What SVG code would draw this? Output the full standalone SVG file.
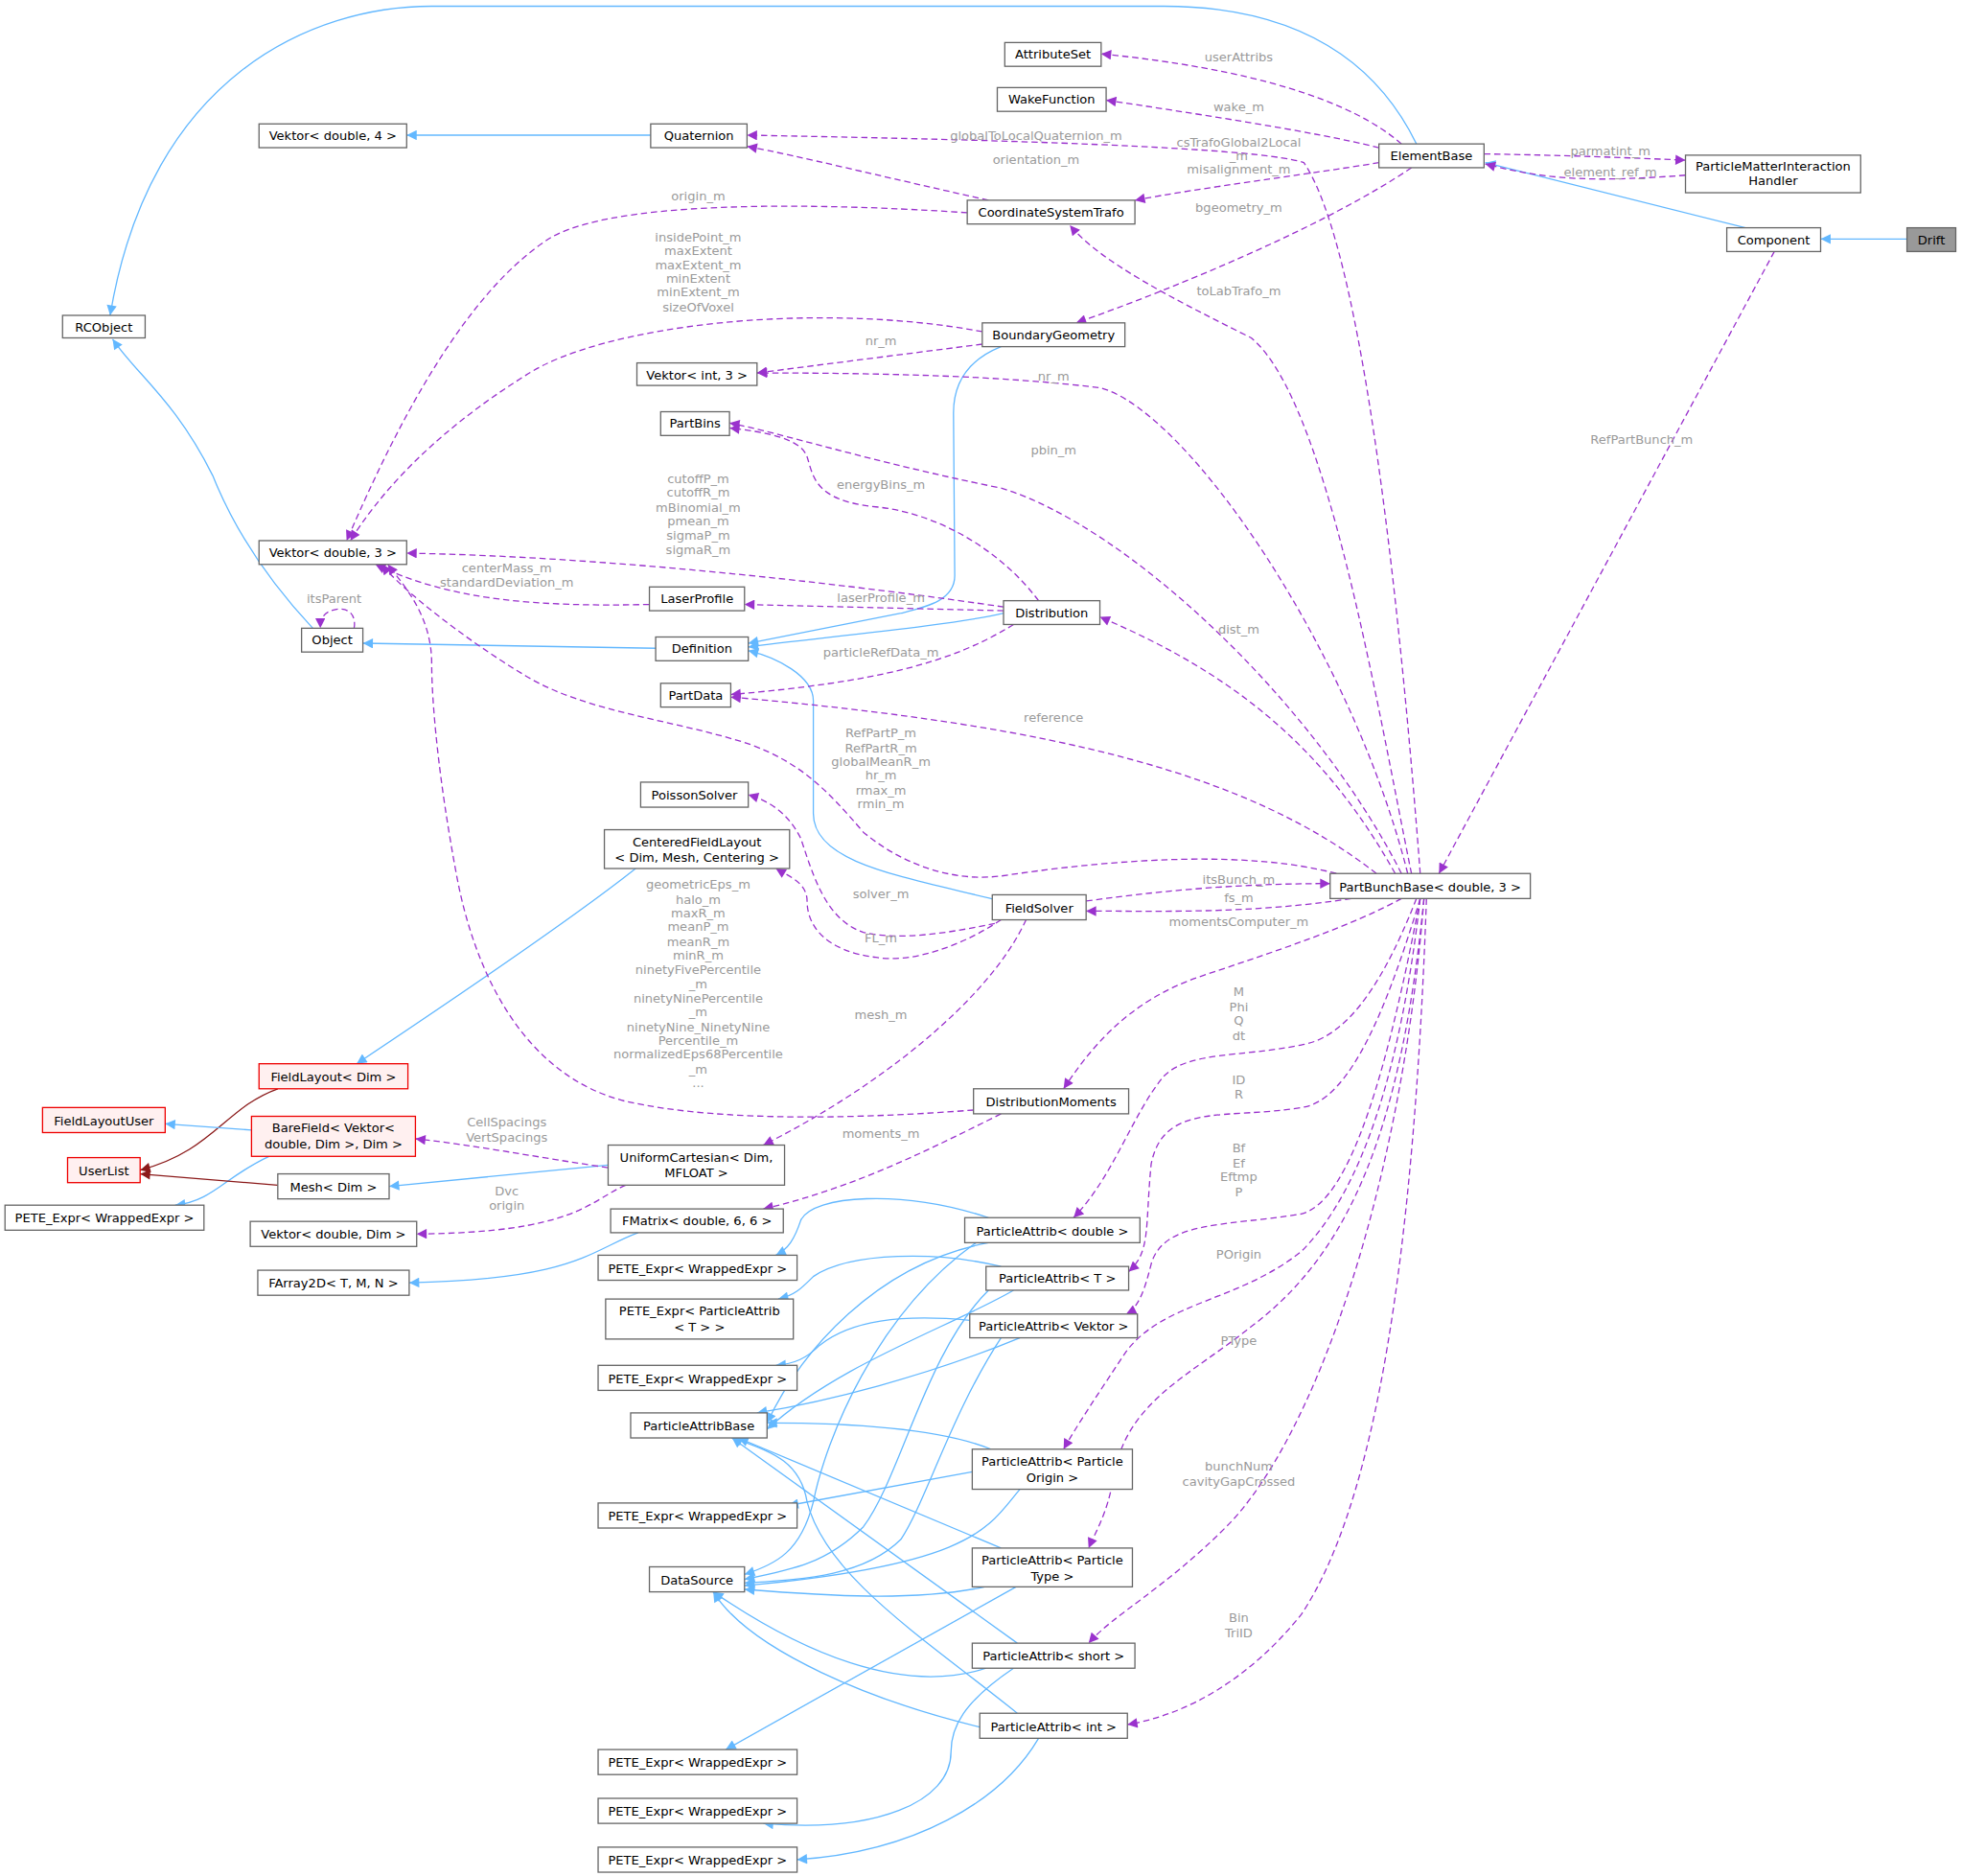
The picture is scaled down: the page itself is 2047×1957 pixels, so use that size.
<svg xmlns="http://www.w3.org/2000/svg" width="2047" height="1957" viewBox="0 0 2047 1957">
<style>
.n rect{fill:#fff;stroke:#666;stroke-width:1}
.r rect{fill:#fff0f0;stroke:#e00;stroke-width:1}
.g rect{fill:#999;stroke:#666}
text{font-family:"DejaVu Sans","Liberation Sans",sans-serif;font-size:10px;fill:#000}
.lb{fill:#9a9a9a;text-anchor:middle}
.b{fill:none;stroke:#63b8ff;stroke-width:1;marker-end:url(#mb)}
.p{fill:none;stroke:#9a32cd;stroke-width:1;stroke-dasharray:5,3;marker-end:url(#mp)}
.d{fill:none;stroke:#8b1a1a;stroke-width:1;marker-end:url(#md)}
</style>
<defs>
<marker id="mb" viewBox="0 0 10 10" refX="10" refY="5" markerWidth="10" markerHeight="8" markerUnits="userSpaceOnUse" orient="auto"><path d="M0,0L10,5L0,10z" fill="#63b8ff"/></marker>
<marker id="mp" viewBox="0 0 10 10" refX="10" refY="5" markerWidth="10" markerHeight="8" markerUnits="userSpaceOnUse" orient="auto"><path d="M0,0L10,5L0,10z" fill="#9a32cd"/></marker>
<marker id="md" viewBox="0 0 10 10" refX="10" refY="5" markerWidth="10" markerHeight="8" markerUnits="userSpaceOnUse" orient="auto"><path d="M0,0L10,5L0,10z" fill="#8b1a1a"/></marker>
</defs>
<rect width="2047" height="1957" fill="#fff"/>
<g transform="scale(1.3055)">
<g id="connectors">
<path class="b" d="M1524,191L1455,191"/>
<path class="b" d="M1395,182L1187,130"/>
<path class="b" d="M1132,115C1110,70 1060,5 930,5L345,5C250,5 120,60 88,252"/>
<path class="b" d="M520,108L325,108"/>
<path class="b" d="M250,502C220,470 190,430 170,380C140,320 110,300 90,271"/>
<path class="b" d="M524,518L290,514"/>
<path class="b" d="M800,277C780,285 762,300 762,330L763,460C763,480 740,485 720,490L598,514"/>
<path class="b" d="M802,490C760,500 650,510 598,517"/>
<path class="b" d="M800,720C720,700 650,690 650,650L650,560C650,540 620,525 598,520"/>
<path class="b" d="M508,694C450,740 330,820 285,850"/>
<path class="d" d="M222,870C180,885 170,920 112,935"/>
<path class="b" d="M201,903L132,898"/>
<path class="b" d="M215,924C180,940 170,960 140,963"/>
<path class="d" d="M222,947L112,938"/>
<path class="b" d="M486,931L311,948"/>
<path class="b" d="M510,985C470,1000 460,1022 327,1025"/>
<path class="b" d="M790,973C720,950 650,955 640,975C635,990 630,998 620,1003"/>
<path class="b" d="M790,993C700,1010 640,1080 613,1137"/>
<path class="b" d="M780,993C700,1050 660,1150 650,1200C640,1240 620,1250 595,1258"/>
<path class="b" d="M800,1012C750,1000 680,1000 650,1020C640,1030 635,1035 622,1038"/>
<path class="b" d="M810,1031C760,1060 670,1090 613,1142"/>
<path class="b" d="M790,1031C740,1080 720,1180 690,1220C660,1250 630,1255 595,1262"/>
<path class="b" d="M775,1055C720,1050 680,1055 655,1075C645,1085 635,1090 620,1091"/>
<path class="b" d="M815,1069C740,1100 660,1120 605,1129"/>
<path class="b" d="M800,1069C760,1130 740,1200 720,1230C690,1260 640,1262 595,1265"/>
<path class="b" d="M792,1158C760,1145 700,1137 613,1137"/>
<path class="b" d="M777,1176L630,1203"/>
<path class="b" d="M815,1190C790,1220 780,1250 595,1267"/>
<path class="b" d="M800,1237L590,1149"/>
<path class="b" d="M787,1268C730,1280 660,1275 595,1270"/>
<path class="b" d="M812,1268L580,1398"/>
<path class="b" d="M813,1313L585,1149"/>
<path class="b" d="M788,1333C720,1355 640,1320 570,1272"/>
<path class="b" d="M810,1333C770,1360 760,1380 760,1400C760,1440 700,1465 610,1457"/>
<path class="b" d="M813,1369C740,1310 660,1260 645,1200C640,1170 620,1160 585,1149"/>
<path class="b" d="M783,1380C700,1360 600,1320 570,1272"/>
<path class="b" d="M830,1389C800,1440 730,1480 637,1486"/>
<path class="p" d="M1120,115C1080,80 1000,55 880,43"/>
<path class="p" d="M1102,118C1050,105 950,90 884,80"/>
<path class="p" d="M1135,698C1120,500 1090,200 1042,130C1000,115 700,110 597,108"/>
<path class="p" d="M1102,130C1040,140 960,150 907,160"/>
<path class="p" d="M790,160C700,140 640,125 597,117"/>
<path class="p" d="M773,170C700,165 500,155 440,190C360,240 300,380 277,432"/>
<path class="p" d="M1186,123C1250,124 1300,126 1347,128"/>
<path class="p" d="M1347,140C1280,145 1240,145 1187,131"/>
<path class="p" d="M1128,134C1060,180 940,230 860,258"/>
<path class="p" d="M1128,698C1100,560 1060,320 1000,270C940,240 880,210 855,180"/>
<path class="p" d="M785,265C650,240 480,260 420,300C340,350 300,400 280,432"/>
<path class="p" d="M785,275L605,298"/>
<path class="p" d="M1125,698C1080,520 950,330 880,310C800,300 700,298 605,298"/>
<path class="p" d="M1120,698C1050,560 900,420 800,390C700,370 620,345 583,338"/>
<path class="p" d="M830,480C800,440 750,410 700,405C650,400 650,380 645,365C640,350 610,345 583,342"/>
<path class="p" d="M802,485C700,470 500,445 325,442"/>
<path class="p" d="M519,483C430,485 360,480 300,451"/>
<path class="p" d="M802,488L595,483"/>
<path class="p" d="M810,499C760,530 700,545 584,555"/>
<path class="p" d="M283,502C285,490 277,485 268,487C258,489 256,495 256,502"/>
<path class="p" d="M1115,698C1060,600 990,540 879,493"/>
<path class="p" d="M1100,698C1000,620 850,580 584,557"/>
<path class="p" d="M1068,698C1000,680 900,685 800,700C760,705 720,690 690,665C660,630 640,610 600,595C540,575 470,570 420,540C370,510 320,470 305,451"/>
<path class="p" d="M795,738C760,745 720,752 690,745C660,735 650,700 640,670C630,650 615,640 598,635"/>
<path class="p" d="M800,735C770,755 730,770 700,765C660,760 645,740 645,720C645,705 630,700 620,694"/>
<path class="p" d="M820,735C790,800 700,870 610,915"/>
<path class="p" d="M778,887C700,893 580,898 500,880C420,860 380,780 365,700C350,620 345,560 345,530C345,490 320,465 310,451"/>
<path class="p" d="M1080,718C1000,730 940,728 868,728"/>
<path class="p" d="M868,720C940,710 1000,706 1063,706"/>
<path class="p" d="M1120,718C1080,740 1020,760 960,780C900,800 870,840 850,870"/>
<path class="p" d="M800,890C740,920 680,950 610,966"/>
<path class="p" d="M486,933C430,925 380,915 332,910"/>
<path class="p" d="M500,947C470,960 460,985 333,986"/>
<path class="p" d="M1132,718C1100,800 1070,830 1040,835C990,845 950,840 930,860C905,890 890,940 858,973"/>
<path class="p" d="M1135,718C1110,800 1080,880 1040,885C980,895 930,880 920,930C915,980 920,1000 902,1016"/>
<path class="p" d="M1135,718C1110,850 1080,960 1040,970C980,980 930,975 920,1010C915,1030 910,1045 900,1050"/>
<path class="p" d="M1135,718C1120,850 1090,950 1040,1000C990,1040 930,1040 900,1080C880,1110 860,1140 850,1158"/>
<path class="p" d="M1138,718C1120,900 1080,1000 1000,1060C950,1100 900,1120 890,1180C885,1210 875,1225 870,1237"/>
<path class="p" d="M1138,718C1120,950 1050,1150 980,1220C930,1270 890,1290 870,1313"/>
<path class="p" d="M1140,718C1130,1000 1100,1200 1040,1290C1000,1340 950,1370 901,1378"/>
<path class="p" d="M1418,201L1150,698"/>
<text class="lb" x="990" y="49">userAttribs</text>
<text class="lb" x="990" y="89">wake_m</text>
<text class="lb" x="828" y="112">globalToLocalQuaternion_m</text>
<text class="lb" x="990" y="117">csTrafoGlobal2Local</text>
<text class="lb" x="990" y="128">_m</text>
<text class="lb" x="990" y="139">misalignment_m</text>
<text class="lb" x="828" y="131">orientation_m</text>
<text class="lb" x="558" y="160">origin_m</text>
<text class="lb" x="1287" y="124">parmatint_m</text>
<text class="lb" x="1287" y="141">element_ref_m</text>
<text class="lb" x="990" y="169">bgeometry_m</text>
<text class="lb" x="990" y="236">toLabTrafo_m</text>
<text class="lb" x="558" y="193">insidePoint_m</text>
<text class="lb" x="558" y="204">maxExtent</text>
<text class="lb" x="558" y="215">maxExtent_m</text>
<text class="lb" x="558" y="226">minExtent</text>
<text class="lb" x="558" y="237">minExtent_m</text>
<text class="lb" x="558" y="249">sizeOfVoxel</text>
<text class="lb" x="704" y="276">nr_m</text>
<text class="lb" x="842" y="304">nr_m</text>
<text class="lb" x="842" y="363">pbin_m</text>
<text class="lb" x="704" y="391">energyBins_m</text>
<text class="lb" x="1312" y="355">RefPartBunch_m</text>
<text class="lb" x="558" y="386">cutoffP_m</text>
<text class="lb" x="558" y="397">cutoffR_m</text>
<text class="lb" x="558" y="409">mBinomial_m</text>
<text class="lb" x="558" y="420">pmean_m</text>
<text class="lb" x="558" y="431">sigmaP_m</text>
<text class="lb" x="558" y="443">sigmaR_m</text>
<text class="lb" x="405" y="457">centerMass_m</text>
<text class="lb" x="405" y="469">standardDeviation_m</text>
<text class="lb" x="267" y="482">itsParent</text>
<text class="lb" x="704" y="481">laserProfile_m</text>
<text class="lb" x="990" y="506">dist_m</text>
<text class="lb" x="704" y="525">particleRefData_m</text>
<text class="lb" x="842" y="577">reference</text>
<text class="lb" x="704" y="589">RefPartP_m</text>
<text class="lb" x="704" y="601">RefPartR_m</text>
<text class="lb" x="704" y="612">globalMeanR_m</text>
<text class="lb" x="704" y="623">hr_m</text>
<text class="lb" x="704" y="635">rmax_m</text>
<text class="lb" x="704" y="646">rmin_m</text>
<text class="lb" x="990" y="706">itsBunch_m</text>
<text class="lb" x="990" y="721">fs_m</text>
<text class="lb" x="990" y="740">momentsComputer_m</text>
<text class="lb" x="704" y="718">solver_m</text>
<text class="lb" x="704" y="753">FL_m</text>
<text class="lb" x="558" y="710">geometricEps_m</text>
<text class="lb" x="558" y="722">halo_m</text>
<text class="lb" x="558" y="733">maxR_m</text>
<text class="lb" x="558" y="744">meanP_m</text>
<text class="lb" x="558" y="756">meanR_m</text>
<text class="lb" x="558" y="767">minR_m</text>
<text class="lb" x="558" y="778">ninetyFivePercentile</text>
<text class="lb" x="558" y="790">_m</text>
<text class="lb" x="558" y="801">ninetyNinePercentile</text>
<text class="lb" x="558" y="812">_m</text>
<text class="lb" x="558" y="824">ninetyNine_NinetyNine</text>
<text class="lb" x="558" y="835">Percentile_m</text>
<text class="lb" x="558" y="846">normalizedEps68Percentile</text>
<text class="lb" x="558" y="858">_m</text>
<text class="lb" x="558" y="869">...</text>
<text class="lb" x="704" y="814">mesh_m</text>
<text class="lb" x="990" y="796">M</text>
<text class="lb" x="990" y="808">Phi</text>
<text class="lb" x="990" y="819">Q</text>
<text class="lb" x="990" y="831">dt</text>
<text class="lb" x="990" y="866">ID</text>
<text class="lb" x="990" y="878">R</text>
<text class="lb" x="990" y="921">Bf</text>
<text class="lb" x="990" y="933">Ef</text>
<text class="lb" x="990" y="944">Eftmp</text>
<text class="lb" x="990" y="956">P</text>
<text class="lb" x="990" y="1006">POrigin</text>
<text class="lb" x="990" y="1075">PType</text>
<text class="lb" x="990" y="1175">bunchNum</text>
<text class="lb" x="990" y="1187">cavityGapCrossed</text>
<text class="lb" x="990" y="1296">Bin</text>
<text class="lb" x="990" y="1308">TriID</text>
<text class="lb" x="704" y="909">moments_m</text>
<text class="lb" x="405" y="900">CellSpacings</text>
<text class="lb" x="405" y="912">VertSpacings</text>
<text class="lb" x="405" y="955">Dvc</text>
<text class="lb" x="405" y="967">origin</text>
</g>
<g text-anchor="middle">
<g id="Drift" class="g"><rect x="1524" y="182" width="39" height="19"/><text x="1543.5" y="195">Drift</text></g>
<g id="Component" class="n"><rect x="1380" y="182" width="75" height="19"/><text x="1417.5" y="195">Component</text></g>
<g id="PMIH" class="n"><rect x="1347" y="124" width="140" height="30"/><text x="1417" y="136">ParticleMatterInteraction</text><text x="1417" y="148">Handler</text></g>
<g id="ElementBase" class="n"><rect x="1102" y="115" width="84" height="19"/><text x="1144" y="128">ElementBase</text></g>
<g id="AttributeSet" class="n"><rect x="803" y="34" width="77" height="19"/><text x="841.5" y="47">AttributeSet</text></g>
<g id="WakeFunction" class="n"><rect x="797" y="70" width="87" height="19"/><text x="840.5" y="83">WakeFunction</text></g>
<g id="Quaternion" class="n"><rect x="520" y="99" width="77" height="19"/><text x="558.5" y="112">Quaternion</text></g>
<g id="VektorD4" class="n"><rect x="207" y="99" width="118" height="19"/><text x="266" y="112">Vektor&lt; double, 4 &gt;</text></g>
<g id="CST" class="n"><rect x="773" y="160" width="134" height="19"/><text x="840" y="173">CoordinateSystemTrafo</text></g>
<g id="RCObject" class="n"><rect x="50" y="252" width="66" height="18"/><text x="83" y="265">RCObject</text></g>
<g id="BoundaryGeometry" class="n"><rect x="785" y="258" width="114" height="19"/><text x="842" y="271">BoundaryGeometry</text></g>
<g id="VektorI3" class="n"><rect x="509" y="290" width="96" height="18"/><text x="557" y="303">Vektor&lt; int, 3 &gt;</text></g>
<g id="PartBins" class="n"><rect x="528" y="329" width="55" height="19"/><text x="555.5" y="342">PartBins</text></g>
<g id="VektorD3" class="n"><rect x="207" y="432" width="118" height="19"/><text x="266" y="445">Vektor&lt; double, 3 &gt;</text></g>
<g id="LaserProfile" class="n"><rect x="519" y="469" width="76" height="19"/><text x="557" y="482">LaserProfile</text></g>
<g id="Distribution" class="n"><rect x="802" y="480" width="77" height="19"/><text x="840.5" y="493">Distribution</text></g>
<g id="Object" class="n"><rect x="241" y="502" width="49" height="19"/><text x="265.5" y="515">Object</text></g>
<g id="Definition" class="n"><rect x="524" y="509" width="74" height="19"/><text x="561" y="522">Definition</text></g>
<g id="PartData" class="n"><rect x="528" y="546" width="56" height="19"/><text x="556" y="559">PartData</text></g>
<g id="PoissonSolver" class="n"><rect x="512" y="625" width="86" height="20"/><text x="555" y="639">PoissonSolver</text></g>
<g id="CenteredFieldLayout" class="n"><rect x="483" y="663" width="148" height="31"/><text x="557" y="676">CenteredFieldLayout</text><text x="557" y="689">&lt; Dim, Mesh, Centering &gt;</text></g>
<g id="PartBunchBase" class="n"><rect x="1063" y="698" width="160" height="20"/><text x="1143" y="712">PartBunchBase&lt; double, 3 &gt;</text></g>
<g id="FieldSolver" class="n"><rect x="793" y="715" width="75" height="20"/><text x="830.5" y="729">FieldSolver</text></g>
<g id="FieldLayout" class="r"><rect x="207" y="850" width="119" height="20"/><text x="266.5" y="864">FieldLayout&lt; Dim &gt;</text></g>
<g id="DistributionMoments" class="n"><rect x="778" y="870" width="124" height="20"/><text x="840" y="884">DistributionMoments</text></g>
<g id="FieldLayoutUser" class="r"><rect x="34" y="885" width="98" height="20"/><text x="83" y="899">FieldLayoutUser</text></g>
<g id="BareField" class="r"><rect x="201" y="892" width="131" height="32"/><text x="266.5" y="905">BareField&lt; Vektor&lt;</text><text x="266.5" y="918">double, Dim &gt;, Dim &gt;</text></g>
<g id="UserList" class="r"><rect x="54" y="925" width="58" height="20"/><text x="83" y="939">UserList</text></g>
<g id="UniformCartesian" class="n"><rect x="486" y="915" width="141" height="32"/><text x="556.5" y="928">UniformCartesian&lt; Dim,</text><text x="556.5" y="941">MFLOAT &gt;</text></g>
<g id="Mesh" class="n"><rect x="222" y="938" width="89" height="20"/><text x="266.5" y="952">Mesh&lt; Dim &gt;</text></g>
<g id="PETE0" class="n"><rect x="4" y="963" width="159" height="20"/><text x="83.5" y="977">PETE_Expr&lt; WrappedExpr &gt;</text></g>
<g id="VektorDDim" class="n"><rect x="200" y="976" width="133" height="20"/><text x="266.5" y="990">Vektor&lt; double, Dim &gt;</text></g>
<g id="FMatrix" class="n"><rect x="488" y="966" width="138" height="19"/><text x="557" y="979">FMatrix&lt; double, 6, 6 &gt;</text></g>
<g id="FArray2D" class="n"><rect x="206" y="1015" width="121" height="20"/><text x="266.5" y="1029">FArray2D&lt; T, M, N &gt;</text></g>
<g id="PAdouble" class="n"><rect x="771" y="973" width="140" height="20"/><text x="841" y="987">ParticleAttrib&lt; double &gt;</text></g>
<g id="PETE1" class="n"><rect x="478" y="1003" width="159" height="20"/><text x="557.5" y="1017">PETE_Expr&lt; WrappedExpr &gt;</text></g>
<g id="PAT" class="n"><rect x="788" y="1012" width="114" height="19"/><text x="845" y="1025">ParticleAttrib&lt; T &gt;</text></g>
<g id="PETEPA" class="n"><rect x="484" y="1038" width="150" height="32"/><text x="559" y="1051">PETE_Expr&lt; ParticleAttrib</text><text x="559" y="1064">&lt; T &gt; &gt;</text></g>
<g id="PAVektor" class="n"><rect x="775" y="1050" width="134" height="19"/><text x="842" y="1063">ParticleAttrib&lt; Vektor &gt;</text></g>
<g id="PETE2" class="n"><rect x="478" y="1091" width="159" height="20"/><text x="557.5" y="1105">PETE_Expr&lt; WrappedExpr &gt;</text></g>
<g id="ParticleAttribBase" class="n"><rect x="504" y="1129" width="109" height="20"/><text x="558.5" y="1143">ParticleAttribBase</text></g>
<g id="PAOrigin" class="n"><rect x="777" y="1158" width="128" height="32"/><text x="841" y="1171">ParticleAttrib&lt; Particle</text><text x="841" y="1184">Origin &gt;</text></g>
<g id="PETE3" class="n"><rect x="478" y="1201" width="159" height="20"/><text x="557.5" y="1215">PETE_Expr&lt; WrappedExpr &gt;</text></g>
<g id="DataSource" class="n"><rect x="519" y="1252" width="76" height="20"/><text x="557" y="1266">DataSource</text></g>
<g id="PAType" class="n"><rect x="777" y="1237" width="128" height="31"/><text x="841" y="1250">ParticleAttrib&lt; Particle</text><text x="841" y="1263">Type &gt;</text></g>
<g id="PAshort" class="n"><rect x="777" y="1313" width="130" height="20"/><text x="842" y="1327">ParticleAttrib&lt; short &gt;</text></g>
<g id="PAint" class="n"><rect x="783" y="1369" width="118" height="20"/><text x="842" y="1383">ParticleAttrib&lt; int &gt;</text></g>
<g id="PETE4" class="n"><rect x="478" y="1398" width="159" height="20"/><text x="557.5" y="1412">PETE_Expr&lt; WrappedExpr &gt;</text></g>
<g id="PETE5" class="n"><rect x="478" y="1437" width="159" height="20"/><text x="557.5" y="1451">PETE_Expr&lt; WrappedExpr &gt;</text></g>
<g id="PETE6" class="n"><rect x="478" y="1476" width="159" height="20"/><text x="557.5" y="1490">PETE_Expr&lt; WrappedExpr &gt;</text></g>
</g>
</g>
</svg>
